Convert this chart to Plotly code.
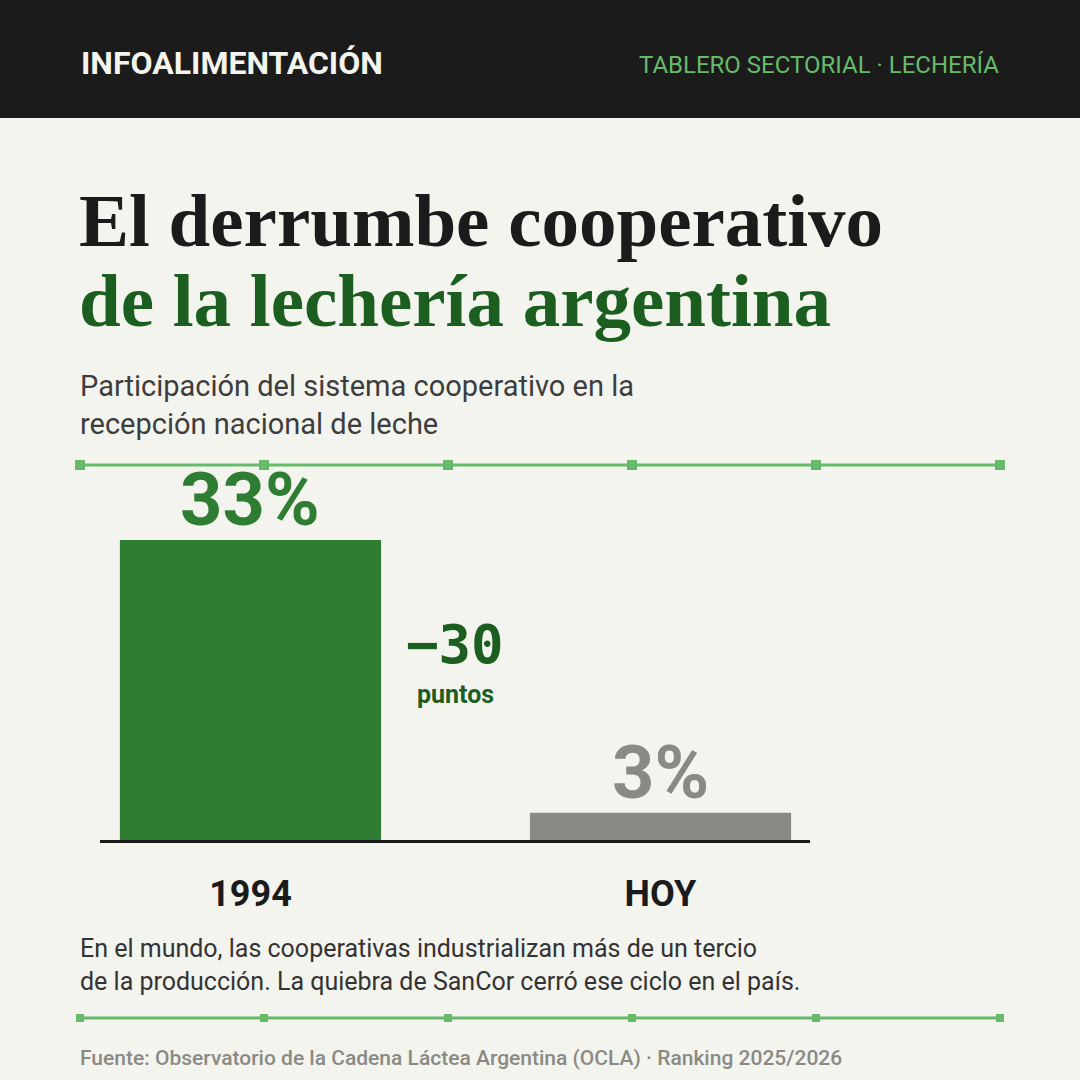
import plotly.graph_objects as go

# Data
categories = ["1994", "HOY"]
shares = [33, 3]
bar_colours = ["#2e7d32", "#8a8a84"]

title_line1 = "El derrumbe cooperativo"
title_line2 = "de la lechería argentina"
subtitle = "Participación del sistema cooperativo en la<br>recepción nacional de leche"
note = ("En el mundo, las cooperativas industrializan más de un tercio<br>"
        "de la producción. La quiebra de SanCor cerró ese ciclo en el país.")
source = "Fuente: Observatorio de la Cadena Láctea Argentina (OCLA) · Ranking 2025/2026"

BG = "#f4f4ef"
DARK = "#1b1b1b"
GREEN = "#1b5e20"
LIGHT_GREEN = "#66bb6a"
SANS = "Roboto, Noto Sans, sans-serif"
W = H = 1080


def py(px):
    """pixel from top -> paper y"""
    return 1 - px / H


def px_x(px):
    return px / W


x_idx = list(range(len(categories)))

fig = go.Figure()
fig.add_trace(go.Bar(x=x_idx, y=shares, marker=dict(color=bar_colours, line=dict(width=0)),
                     width=0.637, hoverinfo="skip"))

annotations = []
# value labels above each bar
for i, v in enumerate(shares):
    annotations.append(dict(x=i, y=v, xref="x", yref="y", text=f"{v}%", showarrow=False,
                            yanchor="bottom", yshift=-5,
                            font=dict(family=SANS, size=74, color=bar_colours[i], weight=700)))

# difference label between bars
diff = shares[1] - shares[0]
mid = (shares[0] + shares[1]) / 2
annotations.append(dict(x=0.5, y=mid, xref="x", yref="y", text=f"−{abs(diff)}", showarrow=False,
                        yanchor="bottom", yshift=-2,
                        font=dict(family="DejaVu Sans Mono, monospace", size=54, color=GREEN,
                                  weight=700)))
annotations.append(dict(x=0.5, y=mid, xref="x", yref="y", text="puntos", showarrow=False,
                        yanchor="top", yshift=-2,
                        font=dict(family=SANS, size=25, color=GREEN, weight=700)))

# header and text blocks
annotations += [
    dict(x=px_x(79), y=py(63), xref="paper", yref="paper", text="INFOALIMENTACIÓN",
         showarrow=False, xanchor="left", yanchor="middle",
         font=dict(family=SANS, size=32, color="#f4f4ef", weight=700)),
    dict(x=px_x(1001), y=py(65), xref="paper", yref="paper",
         text="TABLERO SECTORIAL · LECHERÍA", showarrow=False, xanchor="right",
         yanchor="middle", font=dict(family=SANS, size=24, color=LIGHT_GREEN)),
    dict(x=px_x(77), y=py(220), xref="paper", yref="paper", text=f"<b>{title_line1}</b>",
         showarrow=False, xanchor="left", yanchor="middle",
         font=dict(family="Liberation Serif, serif", size=75, color=DARK)),
    dict(x=px_x(77), y=py(300), xref="paper", yref="paper", text=f"<b>{title_line2}</b>",
         showarrow=False, xanchor="left", yanchor="middle",
         font=dict(family="Liberation Serif, serif", size=75, color=GREEN)),
    dict(x=px_x(78), y=py(405), xref="paper", yref="paper", text=subtitle, showarrow=False,
         xanchor="left", yanchor="middle", align="left",
         font=dict(family=SANS, size=29, color="#3d3d3d")),
    dict(x=px_x(78), y=py(965), xref="paper", yref="paper", text=note, showarrow=False,
         xanchor="left", yanchor="middle", align="left",
         font=dict(family=SANS, size=25, color="#333333")),
    dict(x=px_x(78), y=py(1058), xref="paper", yref="paper", text=source, showarrow=False,
         xanchor="left", yanchor="middle",
         font=dict(family=SANS, size=21, color="#8a8a84", weight=500)),
]

# decorative shapes: header band and dotted dividers
shapes = [dict(type="rect", xref="paper", yref="paper", x0=0, x1=1, y0=py(118), y1=1,
               fillcolor=DARK, line=dict(width=0), layer="below")]
for y_px, sq in [(465, 5), (1018, 4)]:
    shapes.append(dict(type="line", xref="paper", yref="paper", x0=px_x(80), x1=px_x(1000),
                       y0=py(y_px), y1=py(y_px), line=dict(color=LIGHT_GREEN, width=3)))
    for k in range(6):
        cx = 80 + k * 184
        shapes.append(dict(type="rect", xref="paper", yref="paper",
                           x0=px_x(cx - sq), x1=px_x(cx + sq), y0=py(y_px + sq), y1=py(y_px - sq),
                           fillcolor=LIGHT_GREEN, line=dict(width=0)))

fig.update_layout(
    width=W, height=H,
    margin=dict(l=0, r=0, t=0, b=0),
    paper_bgcolor=BG, plot_bgcolor=BG,
    showlegend=False,
    annotations=annotations,
    shapes=shapes,
    xaxis=dict(domain=[px_x(100), px_x(810)], range=[-0.367, 1.3646],
               tickvals=x_idx, ticktext=categories, ticks="", showgrid=False, zeroline=False,
               showline=True, linecolor=DARK, linewidth=3, ticklabelstandoff=20,
               tickfont=dict(family=SANS, size=36, color=DARK, weight=700), fixedrange=True),
    yaxis=dict(domain=[py(840), py(465)], range=[0, 41.25], visible=False, fixedrange=True),
)

# drop the default 8px page margin so the figure sits at the window corner
fig.write_html("out.html", config={"displayModeBar": False},
               post_script="document.body.style.margin='0';")
